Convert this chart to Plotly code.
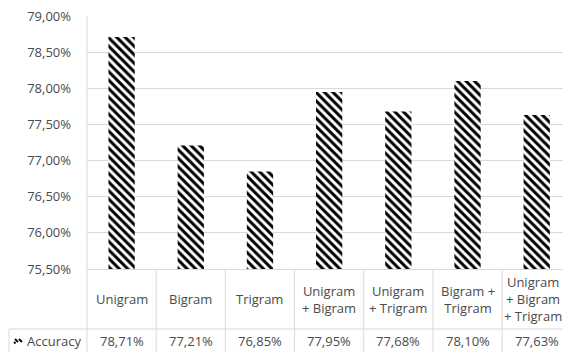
import plotly.graph_objects as go

categories = ["Unigram", "Bigram", "Trigram", "Unigram<br>+ Bigram", "Unigram<br>+ Trigram",
              "Bigram +<br>Trigram", "Unigram<br>+ Bigram<br>+ Trigram"]
accuracy = [78.71, 77.21, 76.85, 77.95, 77.68, 78.10, 77.63]
series_name = "Accuracy"
y_ticks = [75.5, 76.0, 76.5, 77.0, 77.5, 78.0, 78.5, 79.0]

W, H = 563, 352
L, T, B = 87, 16, 83
plot_h = H - T - B
plot_w = W - L
x_lo, x_hi = -0.5, 6.38
GRID = "#d9d9d9"
TXT = "#4a4a4a"
FONT = "Open Sans"
FS = 13

def xp(v):
    return (v - x_lo) / (x_hi - x_lo)

def yp(py):
    return (H - B - py) / plot_h

def fmt(v):
    return f"{v:.2f}".replace(".", ",") + "%"

xs = list(range(len(categories)))

fig = go.Figure()
fig.add_trace(go.Bar(
    x=xs, y=accuracy, width=0.38, name=series_name,
    marker=dict(color="white", line=dict(width=0),
                pattern=dict(shape="\\", fgcolor="black", bgcolor="white",
                             size=6, solidity=0.5, fillmode="replace")),
    showlegend=False, hoverinfo="skip",
))

shapes = []
line = dict(color=GRID, width=1)
shapes.append(dict(type="line", xref="paper", yref="paper", x0=0, x1=0,
                   y0=yp(H), y1=1, line=line))
for k in xs[:-1]:
    shapes.append(dict(type="line", xref="paper", yref="paper", x0=xp(k + 0.5), x1=xp(k + 0.5),
                       y0=yp(H), y1=0, line=line))
shapes.append(dict(type="line", xref="paper", yref="paper", x0=(9 - L) / plot_w, x1=1,
                   y0=yp(329), y1=yp(329), line=line))
shapes.append(dict(type="line", xref="paper", yref="paper", x0=(9 - L) / plot_w, x1=(9 - L) / plot_w,
                   y0=yp(H), y1=yp(329), line=line))
# legend key (hatch glyph)
shapes.append(dict(type="line", xref="paper", yref="paper",
                   x0=(15 - L) / plot_w, x1=(18 - L) / plot_w,
                   y0=yp(339), y1=yp(342), line=dict(color="black", width=1.8)))
shapes.append(dict(type="line", xref="paper", yref="paper",
                   x0=(19 - L) / plot_w, x1=(22 - L) / plot_w,
                   y0=yp(339), y1=yp(342), line=dict(color="black", width=1.8)))
shapes.append(dict(type="line", xref="paper", yref="paper",
                   x0=(14 - L) / plot_w, x1=(15.5 - L) / plot_w,
                   y0=yp(342), y1=yp(343.5), line=dict(color="black", width=1.8)))

annotations = []
for k, c in zip(xs, categories):
    annotations.append(dict(x=k, xref="x", y=yp(299), yref="paper", text=c, showarrow=False,
                            xanchor="center", yanchor="middle", align="center",
                            xshift=-4 if k == xs[-1] else 0,
                            font=dict(family=FONT, size=FS, color=TXT)))
for k, v in zip(xs, accuracy):
    annotations.append(dict(x=k, xref="x", y=yp(341), yref="paper", text=fmt(v), showarrow=False,
                            xanchor="center", yanchor="middle",
                            font=dict(family=FONT, size=FS, color=TXT)))
annotations.append(dict(x=(25 - L) / plot_w, xref="paper", y=yp(341), yref="paper", text=series_name,
                        showarrow=False, xanchor="left", yanchor="middle",
                        font=dict(family=FONT, size=FS, color=TXT)))

fig.update_layout(
    width=W, height=H, margin=dict(l=L, r=0, t=T, b=B, pad=0),
    paper_bgcolor="white", plot_bgcolor="white",
    shapes=shapes, annotations=annotations,
    xaxis=dict(range=[x_lo, x_hi], showticklabels=False, showgrid=False, zeroline=False,
               showline=True, linecolor=GRID, linewidth=1, ticks=""),
    yaxis=dict(range=[75.5, 79.0], tickvals=y_ticks, ticktext=[fmt(v) for v in y_ticks],
               showgrid=True, gridcolor=GRID, gridwidth=1, zeroline=False, showline=False,
               ticks="", ticklabelstandoff=15,
               tickfont=dict(family=FONT, size=FS, color=TXT)),
)

fig.write_html("out.html")
